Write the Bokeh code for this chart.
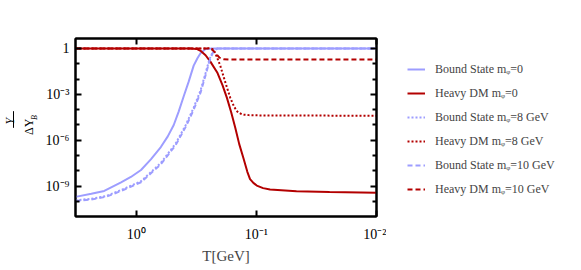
import math
from bokeh.plotting import figure
from bokeh.layouts import row
from bokeh.models import (Range1d, FixedTicker, LogAxis, CustomJSTickFormatter,
                          Legend, LegendItem, Label)
from bokeh.embed import file_html
from bokeh.resources import INLINE

# ---------------- data ----------------
# Bound State m_phi = 0
T_bs0 = [3.21, 2.37, 1.85, 1.34, 1.11, 0.914, 0.757, 0.625, 0.547, 0.488, 0.444,
         0.403, 0.367, 0.333, 0.309, 0.292, 0.265, 0.232, 0.01]
Y_bs0 = [2.0e-10, 3.2e-10, 4.9e-10, 1.8e-9, 4.0e-9, 1.15e-8, 5.6e-8, 3.6e-7, 1.8e-6,
         1.0e-5, 7.5e-5, 7.5e-4, 6.5e-3, 0.075, 0.24, 0.49, 0.93, 1.0, 1.0]

# Heavy DM m_phi = 0
T_hd0 = [3.21, 0.353, 0.315, 0.292, 0.265, 0.241, 0.212, 0.192, 0.176, 0.162, 0.15,
         0.139, 0.128, 0.119, 0.113, 0.106, 0.0993, 0.088, 0.077, 0.0464, 0.0246, 0.01]
Y_hd0 = [1.0, 1.0, 0.93, 0.7, 0.36, 0.133, 0.027, 4.2e-3, 5.9e-4, 6.5e-5, 6.5e-6,
         5.6e-7, 6.5e-8, 8.7e-9, 2.9e-9, 1.65e-9, 1.1e-9, 7.5e-10, 6.0e-10, 4.7e-10,
         4.1e-10, 3.8e-10]

# Bound State m_phi = 8 GeV
T_bs8 = [3.21, 2.37, 1.78, 1.34, 0.914, 0.625, 0.47, 0.388, 0.333, 0.292, 0.265,
         0.246, 0.228, 0.211, 0.01]
Y_bs8 = [1.2e-10, 1.5e-10, 2.3e-10, 5.6e-10, 2.1e-9, 3.3e-8, 6.2e-7, 9.8e-6, 1.35e-4,
         1.8e-3, 0.025, 0.2, 0.75, 1.0, 1.0]

# Heavy DM m_phi = 8 GeV
T_hd8 = [3.21, 0.265, 0.241, 0.228, 0.215, 0.2, 0.182, 0.165, 0.153, 0.144, 0.136,
         0.129, 0.115, 0.093, 0.01]
Y_hd8 = [1.0, 1.0, 1.03, 0.87, 0.32, 0.075, 6.5e-3, 5.9e-4, 1.5e-4, 7.5e-5, 5.6e-5,
         4.7e-5, 4.4e-5, 4.2e-5, 4.0e-5]

# Bound State m_phi = 10 GeV
T_bs10 = [3.21, 2.37, 1.78, 1.34, 0.914, 0.625, 0.47, 0.388, 0.333, 0.292, 0.265,
          0.246, 0.228, 0.211, 0.01]
Y_bs10 = [1.07e-10, 1.33e-10, 2.05e-10, 4.9e-10, 1.8e-9, 2.7e-8, 4.9e-7, 7.5e-6, 1.0e-4,
          1.3e-3, 0.018, 0.15, 0.65, 1.0, 1.0]

# Heavy DM m_phi = 10 GeV
T_hd10 = [3.21, 0.246, 0.232, 0.215, 0.203, 0.188, 0.165, 0.01]
Y_hd10 = [1.0, 1.0, 0.8, 0.42, 0.25, 0.2, 0.19, 0.19]

series_labels = ["Bound State mᵩ=0", "Heavy DM mᵩ=0",
                 "Bound State mᵩ=8 GeV", "Heavy DM mᵩ=8 GeV",
                 "Bound State mᵩ=10 GeV", "Heavy DM mᵩ=10 GeV"]

x_ticks = [1.0, 0.1, 0.01]
x_tick_labels = ["10⁰", "10⁻¹", "10⁻²"]
y_ticks = [1e-9, 1e-6, 1e-3, 1.0]
y_tick_labels = ["10⁻⁹", "10⁻⁶", "10⁻³", "1"]
y_minor = [1e-11, 1e-10, 1e-8, 1e-7, 1e-5, 1e-4, 1e-2, 1e-1, 10.0]

x_label = "T[GeV]"

# ---------------- styling ----------------
FONT = "Liberation Serif"
BLUE = "#9d9dff"
RED = "#b30000"
H = 267
WL, WP, WR = 42, 344, 187

# ---------------- main plot ----------------
p = figure(width=WP, height=H, x_axis_type="log", y_axis_type="log",
           x_range=Range1d(3.21, 0.01), y_range=Range1d(10 ** -10.98, 10 ** 0.65),
           output_backend="svg", toolbar_location=None,
           min_border_left=74 - WL, min_border_right=10, min_border_top=30,
           min_border_bottom=H - 216)
p.xgrid.visible = False
p.ygrid.visible = False
p.outline_line_color = "black"
p.outline_line_width = 2
p.background_fill_color = "white"
p.border_fill_color = "white"

fmt_code = """
let best = 0, d = 1e9;
for (let i = 0; i < tv.length; i++) {
  const dd = Math.abs(Math.log10(tick) - Math.log10(tv[i]));
  if (dd < d) { d = dd; best = i; }
}
return tl[best];
"""

def style_axis(ax):
    ax.axis_line_width = 2
    ax.major_tick_in = 6
    ax.major_tick_out = 0
    ax.minor_tick_in = 4
    ax.minor_tick_out = 0
    ax.major_tick_line_width = 2
    ax.minor_tick_line_width = 2
    ax.major_label_text_font = FONT
    ax.major_label_text_font_size = "14px"
    ax.major_label_text_color = "black"

xa = p.xaxis[0]
xa.ticker = FixedTicker(ticks=x_ticks, minor_ticks=[])
xa.formatter = CustomJSTickFormatter(args=dict(tv=x_ticks, tl=x_tick_labels), code=fmt_code)
style_axis(xa)
xa.major_label_standoff = 10
xa.axis_label = x_label
xa.axis_label_text_font = FONT
xa.axis_label_text_font_style = "normal"
xa.axis_label_text_font_size = "15px"
xa.axis_label_standoff = 3

ya = p.yaxis[0]
ya.ticker = FixedTicker(ticks=y_ticks, minor_ticks=y_minor)
ya.formatter = CustomJSTickFormatter(args=dict(tv=y_ticks, tl=y_tick_labels), code=fmt_code)
style_axis(ya)
ya.major_label_standoff = 6

top = LogAxis(ticker=FixedTicker(ticks=x_ticks, minor_ticks=[]),
              formatter=CustomJSTickFormatter(code="return ''"))
style_axis(top)
top.major_label_standoff = 0
p.add_layout(top, "above")

right = LogAxis(ticker=FixedTicker(ticks=y_ticks, minor_ticks=y_minor),
                formatter=CustomJSTickFormatter(code="return ''"))
style_axis(right)
right.major_label_standoff = 0
p.add_layout(right, "right")

styles = [dict(line_color=BLUE, line_width=2),
          dict(line_color=RED, line_width=2),
          dict(line_color=BLUE, line_width=2, line_dash="2 2"),
          dict(line_color=RED, line_width=2, line_dash="2 2"),
          dict(line_color=BLUE, line_width=2, line_dash="5 3"),
          dict(line_color=RED, line_width=2, line_dash="5 3")]
series = [(T_bs0, Y_bs0), (T_hd0, Y_hd0), (T_bs8, Y_bs8),
          (T_hd8, Y_hd8), (T_bs10, Y_bs10), (T_hd10, Y_hd10)]
for (t, y), st in zip(series, styles):
    p.line(t, y, **st)

# ---------------- legend panel (right) ----------------
pr = figure(width=WR, height=H, x_range=Range1d(0, 1), y_range=Range1d(0, 1),
            x_axis_location=None, y_axis_location=None,
            output_backend="svg", toolbar_location=None,
            min_border_left=0, min_border_right=0, min_border_top=38, min_border_bottom=0)
pr.xgrid.visible = False
pr.ygrid.visible = False
pr.outline_line_color = None
# proxy lines (outside the visible range) that only carry the legend styles
legend_renderers = [pr.line([5, 6], [5, 6], **st) for st in styles]
legend = Legend(items=[LegendItem(label=l, renderers=[r]) for l, r in
                       zip(series_labels, legend_renderers)],
                location="top_left")
legend.border_line_color = None
legend.background_fill_alpha = 0
legend.label_text_font = FONT
legend.label_text_font_size = "12px"
legend.glyph_width = 18
legend.glyph_height = 20
legend.label_height = 20
legend.label_standoff = 10
legend.spacing = 4
legend.padding = 10
legend.margin = 21
pr.add_layout(legend, "center")

# ---------------- y-axis label panel (left): Y / ΔY_B ----------------
pl = figure(width=WL, height=H, x_range=Range1d(0, WL), y_range=Range1d(0, H),
            x_axis_location=None, y_axis_location=None,
            output_backend="svg", toolbar_location=None,
            min_border_left=0, min_border_right=0, min_border_top=0, min_border_bottom=0)
pl.xgrid.visible = False
pl.ygrid.visible = False
pl.outline_line_color = None
lab_kw = dict(angle=math.pi / 2, text_align="center", text_baseline="middle",
              text_font=FONT, text_color="black")
pl.add_layout(Label(x=9.5, y=H - 124, text="Y", text_font_size="12px",
                    text_font_style="italic", **lab_kw))
pl.add_layout(Label(x=28.5, y=H - 132.5, text="ΔY", text_font_size="12px", **lab_kw))
pl.add_layout(Label(x=33.5, y=H - 118.5, text="B", text_font_size="8px",
                    text_font_style="italic", **lab_kw))
pl.segment(x0=[13], y0=[H - 109], x1=[13], y1=[H - 134], line_color="black", line_width=1)

layout = row(pl, p, pr, spacing=0)
open("out.html", "w").write(file_html(layout, INLINE))
